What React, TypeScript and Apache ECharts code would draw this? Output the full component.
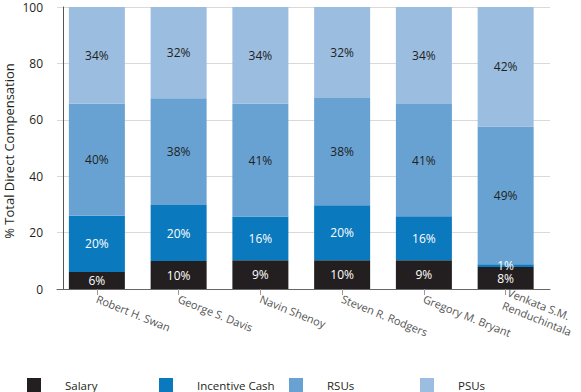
import React, { useEffect, useRef } from "react";
import * as echarts from "echarts";

const categories = [
  "Robert H. Swan",
  "George S. Davis",
  "Navin Shenoy",
  "Steven R. Rodgers",
  "Gregory M. Bryant",
  "Venkata S.M.\nRenduchintala",
];
const seriesNames = ["Salary", "Incentive Cash", "RSUs", "PSUs"];
const salary = [6, 9.9, 10.2, 10.2, 10.2, 7.8];
const incentiveCash = [20, 19.9, 15.5, 19.5, 15.6, 1.0];
const rsus = [39.7, 37.8, 40, 38, 39.8, 48.8];
const psus = [34.3, 32.4, 34.3, 32.3, 34.4, 42.4];
const salaryLabels = ["6%", "10%", "9%", "10%", "9%", "8%"];
const incentiveLabels = ["20%", "20%", "16%", "20%", "16%", "1%"];
const rsuLabels = ["40%", "38%", "41%", "38%", "41%", "49%"];
const psuLabels = ["34%", "32%", "34%", "32%", "34%", "42%"];
const yTicks = [0, 20, 40, 60, 80, 100];
const yAxisTitle = "% Total Direct Compensation";

const colors = ["#231f20", "#0b79bd", "#68a2d3", "#9bbde0"];
const labelColors = ["#ffffff", "#ffffff", "#231f20", "#231f20"];
const FONT = "'Open Sans', 'Noto Sans', sans-serif";

export default function App() {
  const ref = useRef<HTMLDivElement>(null);
  useEffect(() => {
    if (!ref.current) return;
    const chart = echarts.init(ref.current, null, { renderer: "svg" });
    const values = [salary, incentiveCash, rsus, psus];
    const labels = [salaryLabels, incentiveLabels, rsuLabels, psuLabels];
    const legendLefts = [27, 159, 289, 420];
    chart.setOption({
      animation: false,
      textStyle: { fontFamily: FONT },
      grid: [
        { left: 56, right: 23, top: 7, bottom: 103 },
        { left: 57, right: 31, top: 7, bottom: 103 },
      ],
      graphic: [
        {
          type: "text",
          x: 9,
          y: 151,
          rotation: Math.PI / 2,
          style: {
            text: yAxisTitle,
            fontFamily: FONT,
            fontSize: 13,
            fill: "#231f20",
            align: "center",
            verticalAlign: "middle",
          },
        },
      ],
      legend: seriesNames.map((n, i) => ({
        data: [n],
        left: legendLefts[i],
        top: 378,
        itemWidth: 14,
        itemHeight: 14,
        itemGap: 0,
        padding: 0,
        icon: "rect",
        selectedMode: false,
        textStyle: {
          fontFamily: FONT,
          fontSize: 11.5,
          color: "#231f20",
          padding: [0, 0, 0, 19],
        },
      })),
      xAxis: [
        {
          type: "category",
          gridIndex: 0,
          data: categories,
          axisLine: { show: false },
          axisTick: {
            show: true,
            alignWithLabel: true,
            length: 6,
            lineStyle: { color: "#999" },
          },
          axisLabel: {
            rotate: -22,
            fontSize: 11,
            color: "#555",
            margin: 9,
            fontFamily: FONT,
            lineHeight: 14,
          },
        },
        {
          type: "value",
          gridIndex: 1,
          min: 0,
          max: 1,
          axisLine: { show: true, onZero: false, lineStyle: { color: "#666" } },
          axisTick: { show: false },
          axisLabel: { show: false },
          splitLine: { show: false },
        },
      ],
      yAxis: [
        { type: "value", gridIndex: 0, min: 0, max: 100, show: false },
        {
          type: "value",
          gridIndex: 1,
          min: yTicks[0],
          max: yTicks[yTicks.length - 1],
          interval: 20,
          offset: -6,
          axisLine: { show: true, lineStyle: { color: "#555" } },
          axisTick: { show: false },
          axisLabel: {
            margin: 20,
            fontSize: 12,
            lineHeight: 12,
            color: "#231f20",
            fontFamily: FONT,
          },
          splitLine: { show: true, lineStyle: { color: "#d9d9d9" } },
        },
      ],
      series: seriesNames.map((n, i) => ({
        name: n,
        type: "bar",
        stack: "total",
        xAxisIndex: 0,
        yAxisIndex: 0,
        barWidth: 56,
        data: values[i],
        itemStyle: { color: colors[i] },
        label: {
          show: true,
          position: "inside",
          fontSize: 12,
          fontFamily: FONT,
          color: labelColors[i],
          formatter: (p: any) => labels[i][p.dataIndex],
        },
      })),
    });
    return () => chart.dispose();
  }, []);
  return (
    <div
      ref={ref}
      style={{ position: "absolute", left: 0, top: 0, width: 581, height: 392 }}
    />
  );
}
